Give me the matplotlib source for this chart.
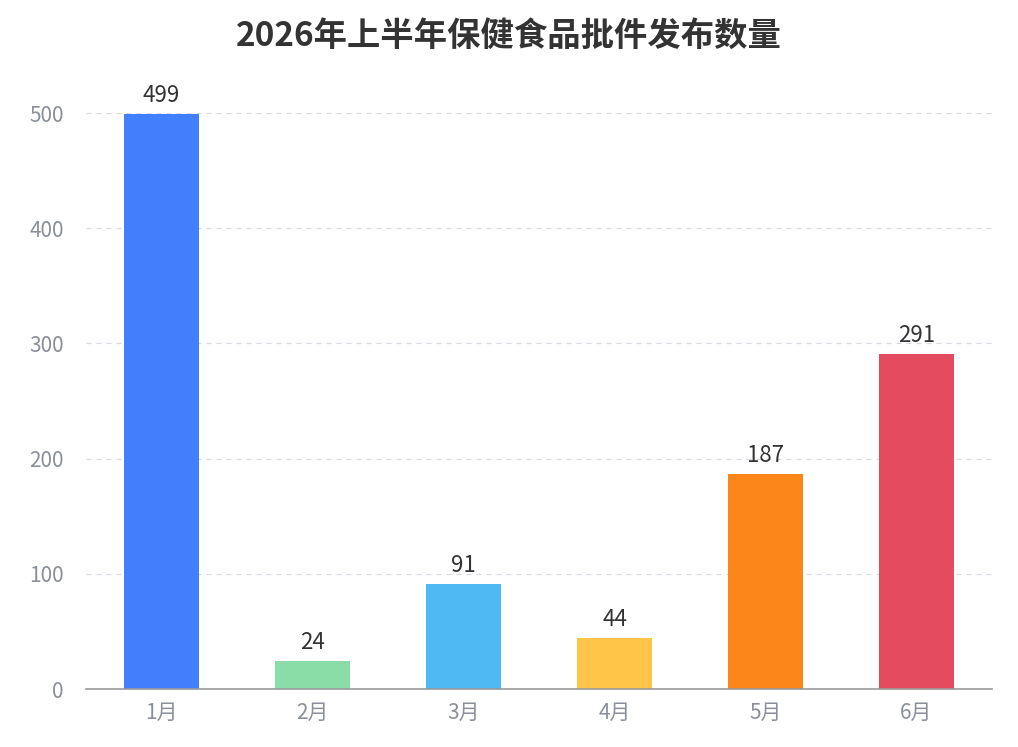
import matplotlib
matplotlib.use("Agg")
import matplotlib.pyplot as plt

plt.rcParams["font.family"] = ["Noto Sans CJK SC", "DejaVu Sans"]

# ----- data -----
months = ["1月", "2月", "3月", "4月", "5月", "6月"]
counts = [499, 24, 91, 44, 187, 291]
bar_colors = ["#427ffd", "#8adda7", "#4fb9f4", "#fec548", "#fb8619", "#e54b5e"]
y_ticks = [0, 100, 200, 300, 400, 500]
title = "2026年上半年保健食品批件发布数量"

fig = plt.figure(figsize=(10.18, 7.47), dpi=100)
ax = fig.add_axes([0.0845, 0.0776, 0.89, 0.7711])

x = list(range(len(months)))
ax.bar(x, counts, width=0.5, color=bar_colors, zorder=3)
for xi, v in zip(x, counts):
    ax.annotate(str(v), (xi, v), xytext=(0, 5), textcoords="offset points",
                ha="center", va="bottom", fontsize=16, color="#333333")

ax.set_xlim(-0.5, len(months) - 0.5)
ax.set_ylim(0, 500)
ax.set_yticks(y_ticks)
ax.set_xticks(x)
ax.set_xticklabels(months)
ax.tick_params(axis="both", length=0, labelsize=15, labelcolor="#8a8f99")
ax.tick_params(axis="y", pad=16)
ax.tick_params(axis="x", pad=9)

ax.grid(axis="y", linestyle=(0, (4, 4)), color="#d6d9e0", linewidth=0.9, zorder=0)
for side in ("top", "right", "left"):
    ax.spines[side].set_visible(False)
ax.spines["bottom"].set_color("#9a9a9a")
ax.spines["bottom"].set_linewidth(1.2)
ax.spines["bottom"].set_zorder(4)

fig.text(0.5, 0.951, title, ha="center", va="center", fontsize=24,
         fontweight="bold", color="#333333")

fig.savefig("out.png", dpi=100)
plt.close(fig)
